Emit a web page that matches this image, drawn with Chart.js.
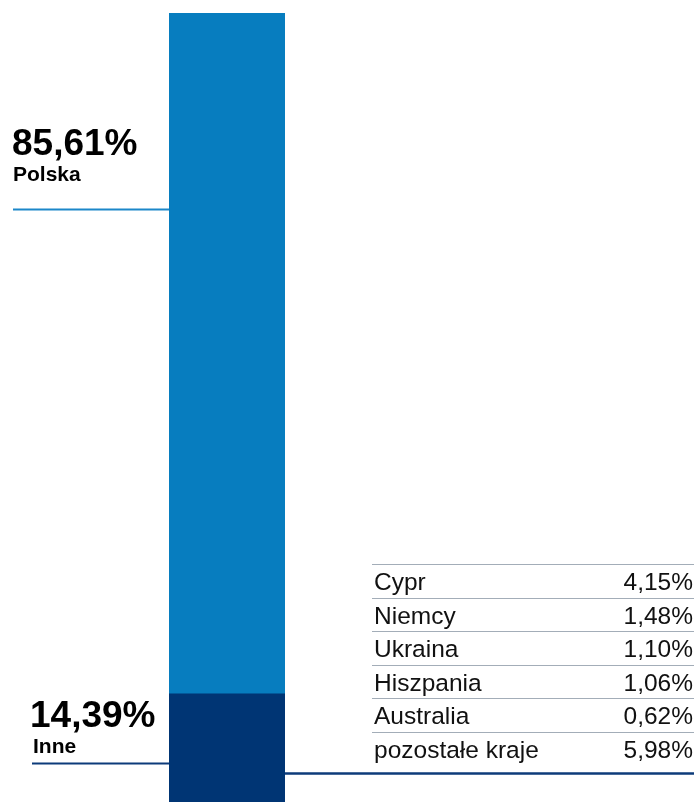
<!DOCTYPE html>
<html><head><meta charset="utf-8">
<script src="https://cdn.jsdelivr.net/npm/chart.js@4/dist/chart.umd.min.js"></script>
<style>html,body{margin:0;padding:0;overflow:hidden;background:#fff}#wrap{position:relative;width:698px;height:802px}</style>
</head><body><div id="wrap"><canvas id="c" width="698" height="802"></canvas></div>
<script>
const categories = ['Struktura'];
const seriesNames = ['Inne', 'Polska'];
const inneValues = [14.39];
const polskaValues = [85.61];
const mainLabels = ['14,39%', '85,61%'];
const tableCountries = ['Cypr', 'Niemcy', 'Ukraina', 'Hiszpania', 'Australia', 'pozostałe kraje'];
const tableValues = ['4,15%', '1,48%', '1,10%', '1,06%', '0,62%', '5,98%'];

const BLUE = '#077dbf', NAVY = '#003574';

const overlay = {
  id: 'overlay',
  afterDraw(chart) {
    const ctx = chart.ctx;
    ctx.save();
    ctx.fillStyle = '#000';
    ctx.textBaseline = 'alphabetic';
    ctx.textAlign = 'left';
    // Polska
    ctx.font = 'bold 37px "Liberation Sans", Arial, sans-serif';
    ctx.fillText(mainLabels[1], 12, 155);
    ctx.font = 'bold 21px "Liberation Sans", Arial, sans-serif';
    ctx.fillText(seriesNames[1], 13, 181);
    ctx.strokeStyle = '#1c87c9'; ctx.lineWidth = 2;
    ctx.beginPath(); ctx.moveTo(13, 209.5); ctx.lineTo(169, 209.5); ctx.stroke();
    // Inne
    ctx.font = 'bold 37px "Liberation Sans", Arial, sans-serif';
    ctx.fillText(mainLabels[0], 30, 727);
    ctx.font = 'bold 21px "Liberation Sans", Arial, sans-serif';
    ctx.fillText(seriesNames[0], 33, 753);
    ctx.strokeStyle = '#0d3b7a'; ctx.lineWidth = 2;
    ctx.beginPath(); ctx.moveTo(32, 763.5); ctx.lineTo(169, 763.5); ctx.stroke();
    ctx.lineWidth = 2.5;
    ctx.beginPath(); ctx.moveTo(285, 773.5); ctx.lineTo(694, 773.5); ctx.stroke();
    // table
    const top = 564, rowH = 33.6;
    ctx.strokeStyle = '#a3adb8'; ctx.lineWidth = 1;
    ctx.font = '24.5px "Liberation Sans", Arial, sans-serif';
    ctx.fillStyle = '#111';
    tableCountries.forEach((c, i) => {
      const y = top + i * rowH;
      ctx.beginPath(); ctx.moveTo(372, Math.round(y) + 0.5); ctx.lineTo(694, Math.round(y) + 0.5); ctx.stroke();
      ctx.textAlign = 'left';
      ctx.fillText(c, 374, y + 26);
      ctx.textAlign = 'right';
      ctx.fillText(tableValues[i], 693, y + 26);
    });
    ctx.restore();
  }
};

new Chart(document.getElementById('c'), {
  type: 'bar',
  data: {
    labels: categories,
    datasets: [
      { label: seriesNames[0], data: inneValues, backgroundColor: NAVY, borderWidth: 0 },
      { label: seriesNames[1], data: polskaValues, backgroundColor: BLUE, borderWidth: 0 }
    ]
  },
  options: {
    responsive: false,
    animation: false,
    layout: { padding: { left: 169, right: 413, top: 13, bottom: 0 } },
    datasets: { bar: { categoryPercentage: 1, barPercentage: 1 } },
    scales: {
      x: { stacked: true, display: false },
      y: { stacked: true, display: false, min: 0.8, max: 100 }
    },
    plugins: { legend: { display: false }, tooltip: { enabled: false } }
  },
  plugins: [overlay]
});
</script></body></html>
